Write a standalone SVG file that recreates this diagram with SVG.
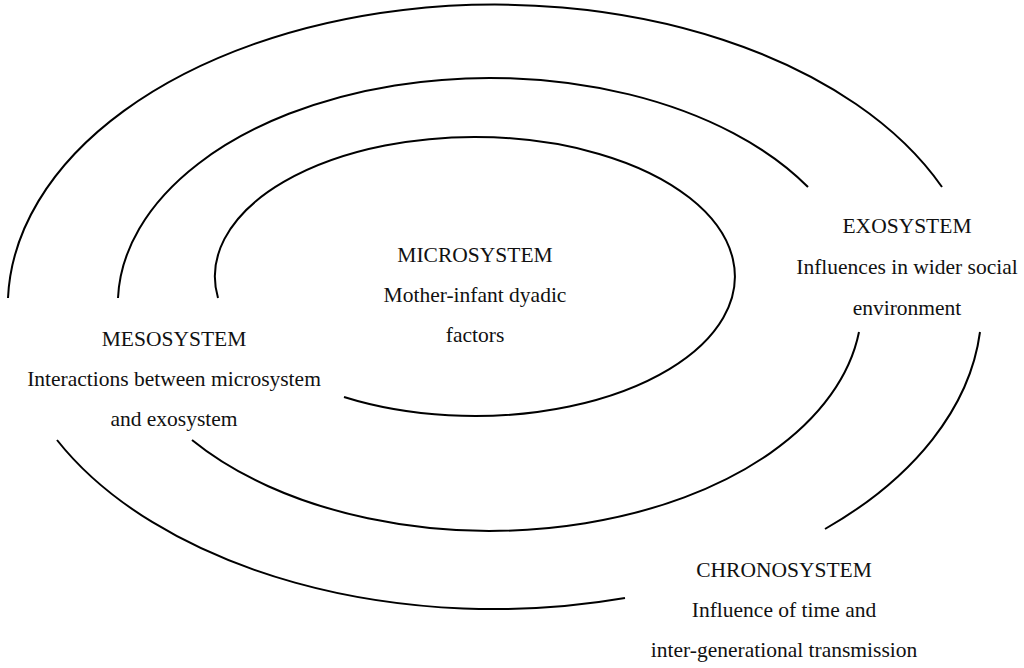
<svg xmlns="http://www.w3.org/2000/svg" width="1024" height="668" viewBox="0 0 1024 668">
<style>
.arc{fill:none;stroke:#000;stroke-width:2}
text{font-family:"Liberation Serif","Times New Roman",serif;font-size:21.5px;fill:#111;text-anchor:middle}
</style>
<rect width="1024" height="668" fill="#fff"/>
<g id="connectors">
<path class="arc" d="M8,298 A487,302 0 0 1 942,187"/>
<path class="arc" d="M980,332 A487,302 0 0 1 825,529"/>
<path class="arc" d="M625,598 A487,302 0 0 1 57,440"/>
<path class="arc" d="M118,298 A372,226.5 0 0 1 808,187"/>
<path class="arc" d="M859,332 A372,226.5 0 0 1 192,440"/>
<path class="arc" d="M218,298 A260,139.5 0 1 1 344,397"/>
</g>
<g id="microsystem">
<text x="475" y="262">MICROSYSTEM</text>
<text x="475" y="302">Mother-infant dyadic</text>
<text x="475" y="342">factors</text>
</g>
<g id="mesosystem">
<text x="174" y="346">MESOSYSTEM</text>
<text x="174" y="386">Interactions between microsystem</text>
<text x="174" y="426">and exosystem</text>
</g>
<g id="exosystem">
<text x="907" y="233">EXOSYSTEM</text>
<text x="907" y="274">Influences in wider social</text>
<text x="907" y="315">environment</text>
</g>
<g id="chronosystem">
<text x="784" y="577">CHRONOSYSTEM</text>
<text x="784" y="617">Influence of time and</text>
<text x="784" y="657">inter-generational transmission</text>
</g>
</svg>
